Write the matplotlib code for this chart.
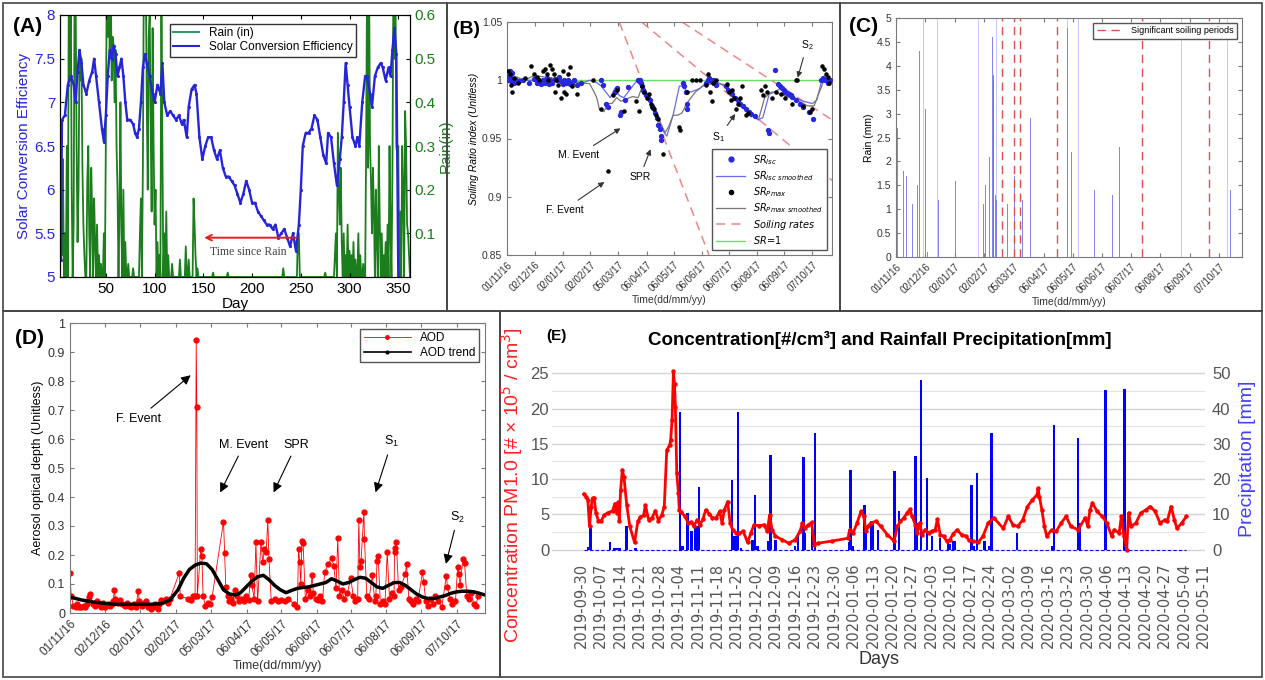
import numpy as np
import pandas as pd
import matplotlib
matplotlib.use('Agg')
import matplotlib.pyplot as plt
from matplotlib.patches import Rectangle
from matplotlib.lines import Line2D

plt.rcParams['font.family'] = ['Liberation Sans', 'DejaVu Sans']

W, H = 1265, 680
fig = plt.figure(figsize=(W / 100, H / 100), dpi=100)


def px_axes(l, t, r, b):
    return fig.add_axes([l / W, 1 - b / H, (r - l) / W, (b - t) / H])


def matlab_style(ax, fs=7.5):
    for s in ax.spines.values():
        s.set_color('#7a7a7a')
        s.set_linewidth(0.8)
    ax.tick_params(direction='in', top=True, right=True, length=3,
                   color='#7a7a7a', labelsize=fs, labelcolor='#333333')


# ---------------- (A) solar conversion efficiency & rain ----------------
eff_day = [4, 5, 8, 11, 14, 17, 19, 21, 23, 25, 27, 30, 33, 36, 38, 40, 43, 46, 48, 50,
           52, 54, 56, 58, 60, 62, 64, 66, 68, 70, 72, 75, 78, 80, 82, 84, 86, 88, 90, 92,
           95, 98, 100, 103, 106, 108, 110, 113, 116, 119, 122, 125, 128, 130, 133, 135, 138, 141, 143, 146,
           149, 152, 155, 158, 161, 164, 167, 170, 173, 176, 179, 182, 185, 188, 191, 194, 197, 200, 203, 206,
           209, 212, 215, 218, 221, 224, 227, 230, 233, 236, 239, 242, 245, 248, 250, 252, 255, 258, 261, 264,
           267, 270, 273, 276, 278, 281, 284, 287, 290, 292, 294, 296, 298, 300, 303, 306, 308, 310, 313, 316,
           318, 321, 323, 326, 329, 332, 334, 337, 340, 342, 344, 346, 348, 350]
eff_val = [5.2, 6.8, 6.85, 7.2, 7.3, 7.2, 7.0, 7.35, 7.6, 7.45, 7.2, 7.1, 7.25, 7.35, 7.5, 7.3, 7.0, 6.7, 6.55, 6.85,
           7.3, 7.6, 7.5, 7.65, 7.55, 7.3, 7.4, 7.5, 7.3, 7.0, 6.8, 6.8, 6.75, 6.65, 6.6, 6.7, 7.0, 7.4, 7.55, 7.45,
           7.3, 7.1, 7.0, 7.2, 7.1, 7.45, 7.0, 6.85, 6.9, 6.85, 6.8, 6.85, 6.75, 6.8, 6.6, 6.95, 7.15, 7.2, 7.1, 6.6,
           6.35, 6.5, 6.6, 6.6, 6.45, 6.35, 6.45, 6.25, 6.15, 6.15, 6.1, 6.05, 5.95, 5.85, 5.95, 6.1, 6.0, 5.85, 5.85, 5.75,
           5.7, 5.65, 5.6, 5.6, 5.55, 5.6, 5.45, 5.5, 5.55, 5.45, 5.35, 5.5, 5.3, 5.6, 6.0, 6.5, 6.65, 6.65, 6.7, 6.85,
           6.8, 6.6, 6.4, 6.3, 6.65, 6.6, 6.3, 6.05, 6.35, 6.6, 7.0, 7.45, 7.2, 6.95, 6.6, 6.5, 6.6, 6.5, 7.0, 7.3,
           7.3, 7.1, 6.95, 7.3, 7.4, 7.45, 7.4, 7.25, 7.4, 7.3, 7.6, 7.85, 7.55, 5.0]

rain_a_day = [4, 5, 6, 8, 10, 12, 13, 14, 15, 17, 18, 19, 20, 21, 22, 23, 24, 25, 26, 27,
              28, 31, 32, 33, 35, 36, 38, 39, 41, 43, 45, 48, 50, 51, 52, 53, 54, 55, 56, 57,
              58, 59, 60, 61, 62, 64, 65, 66, 68, 70, 73, 78, 85, 86, 88, 89, 90, 91, 92, 93,
              94, 95, 96, 97, 98, 99, 100, 101, 103, 105, 107, 108, 110, 112, 114, 118, 126, 132, 135, 140,
              141, 142, 144, 160, 175, 232, 247, 248, 275, 285, 286, 288, 289, 290, 291, 292, 294, 296, 298, 300,
              302, 304, 306, 309, 311, 314, 317, 318, 319, 320, 321, 322, 323, 324, 325, 327, 328, 330, 331, 333,
              335, 337, 339, 341, 342, 344, 345, 346, 347, 348, 349, 350, 352, 354, 355, 357, 358, 359, 360, 361]
rain_a_in = [0.29, 0.05, 0.27, 0.1, 0.3, 0.65, 0.45, 0.7, 0.2, 0.12, 0.7, 0.65, 0.3, 0.08, 0.2, 0.52, 0.45, 0.5, 0.25, 0.12,
             0.05, 0.22, 0.3, 0.1, 0.25, 0.15, 0.18, 0.08, 0.12, 0.05, 0.03, 0.1, 0.3, 0.7, 0.55, 0.65, 0.5, 0.7, 0.45, 0.55,
             0.53, 0.4, 0.52, 0.3, 0.2, 0.15, 0.4, 0.1, 0.2, 0.08, 0.03, 0.02, 0.1, 0.18, 0.25, 0.7, 0.65, 0.7, 0.4, 0.2,
             0.55, 0.6, 0.35, 0.15, 0.57, 0.3, 0.12, 0.2, 0.08, 0.05, 0.7, 0.3, 0.1, 0.15, 0.05, 0.03, 0.04, 0.07, 0.04, 0.18,
             0.12, 0.05, 0.02, 0.01, 0.01, 0.02, 0.1, 0.1, 0.01, 0.05, 0.1, 0.33, 0.2, 0.12, 0.25, 0.08, 0.1, 0.05, 0.12, 0.06,
             0.05, 0.08, 0.04, 0.1, 0.05, 0.03, 0.3, 0.7, 0.25, 0.7, 0.3, 0.22, 0.1, 0.25, 0.15, 0.2, 0.08, 0.3, 0.12, 0.1,
             0.05, 0.08, 0.12, 0.3, 0.1, 0.25, 0.7, 0.5, 0.7, 0.3, 0.28, 0.3, 0.15, 0.3, 0.2, 0.38, 0.3, 0.12, 0.1, 0.05]

blue_a = '#2626d8'
green_a = '#1b7d1b'

ax = px_axes(60, 15, 410, 277)
axr = ax.twinx()
ax.set_zorder(axr.get_zorder() + 1)
ax.patch.set_visible(False)

year_days = np.arange(1, 366)
rain_daily = np.zeros(year_days.size)
rain_daily[np.array(rain_a_day) - 1] = rain_a_in
axr.plot(year_days, rain_daily, color=green_a, lw=1.3)
ax.plot(eff_day, eff_val, color=blue_a, lw=1.7, marker='.', ms=2.5)

ax.set_xlim(3, 362)
ax.set_ylim(5, 8)
axr.set_ylim(0, 0.6)
ax.set_xticks([50, 100, 150, 200, 250, 300, 350])
ax.set_yticks([5, 5.5, 6, 6.5, 7, 7.5, 8])
ax.set_yticklabels(['5', '5.5', '6', '6.5', '7', '7.5', '8'])
axr.set_yticks([0.1, 0.2, 0.3, 0.4, 0.5, 0.6])
ax.tick_params(direction='in', top=True, length=3, labelsize=11)
ax.tick_params(axis='y', labelcolor=blue_a)
axr.tick_params(direction='in', length=3, labelsize=11, labelcolor=green_a)
ax.set_xlabel('Day', fontsize=11, labelpad=1)
ax.set_ylabel('Solar Conversion Efficiency', fontsize=11, color=blue_a, labelpad=2)
axr.set_ylabel('Rain(in)', fontsize=11, color=green_a, labelpad=2)
ax.legend(handles=[Line2D([], [], color='#2f9a6a', lw=1.5, label='Rain (in)'),
                   Line2D([], [], color=blue_a, lw=1.5, label='Solar Conversion Efficiency')],
          loc='upper center', bbox_to_anchor=(0.58, 0.99), fontsize=8.5, fancybox=False,
          edgecolor='#333333', framealpha=1, borderpad=0.3, handlelength=2.2, labelspacing=0.2)
ax.annotate('', xy=(148, 5.45), xytext=(248, 5.45),
            arrowprops=dict(arrowstyle='->', color='#e02020', lw=1.4))
ax.text(196, 5.29, 'Time since Rain', fontsize=8.5, color='#444444',
        family=['Liberation Serif', 'DejaVu Serif'], ha='center', va='center')

# ---------------- shared date axis for (B), (C), (D) ----------------
date_labels = ['01/11/16', '02/12/16', '02/01/17', '02/02/17', '05/03/17', '06/04/17',
               '06/05/17', '06/06/17', '06/07/17', '06/08/17', '06/09/17', '07/10/17']
date_pos = (pd.to_datetime(date_labels, format='%d/%m/%y') - pd.Timestamp('2016-11-01')).days


def date_axis(ax, fs=7.5):
    ax.set_xticks(date_pos)
    ax.set_xticklabels(date_labels, rotation=45, ha='right', rotation_mode='anchor', fontsize=fs)
    ax.set_xlabel('Time(dd/mm/yy)', fontsize=fs + 0.5, color='#333333', labelpad=1)


# ---------------- (B) soiling ratio ----------------
isc_day = [1, 2, 3, 4, 5, 6, 8, 10, 13, 18, 24, 30, 33, 36, 38, 40, 42, 44, 45, 47,
           48, 50, 53, 56, 58, 60, 62, 64, 66, 68, 70, 72, 75, 78, 82, 105, 107, 110, 112, 120,
           122, 126, 127, 131, 135, 146, 147, 148, 149, 150, 152, 153, 155, 157, 159, 161, 163, 165, 167, 168,
           170, 171, 172, 196, 197, 199, 200, 201, 222, 224, 225, 227, 229, 231, 233, 244, 246, 249, 251, 254,
           257, 260, 263, 266, 269, 272, 276, 291, 292, 298, 302, 304, 306, 308, 310, 312, 314, 316, 318, 322,
           326, 330, 336, 341, 350, 352, 354, 357, 360]
isc_val = [1.0, 1.004, 1.008, 1.002, 0.999, 1.006, 0.998, 1.0, 0.999, 1.0, 0.998, 1.001, 0.998, 1.0, 0.997, 1.0, 0.998, 1.002, 0.999, 0.997,
           1.0, 0.998, 1.001, 1.0, 1.003, 0.999, 0.997, 1.0, 0.998, 1.0, 0.997, 0.998, 1.0, 0.996, 0.998, 1.0, 0.996, 0.98, 0.977, 0.99,
           0.993, 0.97, 0.973, 0.983, 0.994, 1.0, 0.999, 1.0, 0.998, 0.995, 0.992, 0.99, 0.987, 0.985, 0.983, 0.978, 0.976, 0.972, 0.968, 0.962,
           0.958, 0.952, 0.949, 0.998, 0.995, 0.99, 0.98, 0.975, 0.998, 1.0, 1.002, 0.999, 1.0, 0.998, 0.996, 0.995, 0.992, 0.99, 0.988, 0.985,
           0.983, 0.98, 0.978, 0.975, 0.973, 0.971, 0.969, 0.957, 0.955, 1.009, 0.997, 0.995, 0.993, 0.992, 0.99, 0.989, 0.988, 0.987, 0.986, 0.983,
           0.98, 0.977, 0.973, 0.967, 1.0, 1.002, 1.0, 0.998, 1.0]

pmax_day = [1, 3, 4, 6, 8, 12, 20, 27, 30, 33, 36, 40, 42, 44, 46, 48, 50, 52, 53, 55,
            57, 60, 62, 64, 66, 68, 70, 72, 78, 96, 105, 112, 118, 123, 130, 144, 147, 150, 153, 156,
            158, 160, 162, 164, 166, 168, 174, 192, 193, 200, 206, 211, 215, 222, 224, 226, 228, 230, 233, 245,
            247, 249, 251, 253, 255, 257, 260, 262, 266, 268, 283, 285, 287, 290, 295, 300, 305, 310, 318, 322,
            323, 330, 338, 340, 351, 353, 355, 357, 359]
pmax_val = [1.008, 1.005, 0.996, 0.99, 1.002, 0.998, 1.002, 1.012, 1.005, 1.003, 1.0, 1.008, 1.01, 1.005, 1.0, 1.013, 1.01, 1.005, 0.99, 1.0,
            0.996, 0.985, 1.008, 0.99, 0.988, 1.005, 1.011, 0.995, 0.988, 1.0, 0.975, 0.922, 0.987, 0.992, 0.974, 0.982, 0.974, 0.995, 0.99, 0.985,
            0.988, 0.98, 0.977, 0.975, 0.97, 0.967, 0.937, 0.96, 0.957, 0.99, 1.0, 1.0, 1.0, 0.996, 1.005, 0.99, 0.982, 0.998, 1.0, 0.997,
            0.99, 0.983, 0.992, 0.985, 0.975, 0.98, 0.985, 0.995, 0.97, 0.972, 0.992, 0.987, 0.995, 0.99, 0.985, 0.99, 0.988, 0.985, 0.98, 1.0,
            1.0, 0.978, 0.973, 0.975, 1.012, 1.01, 1.005, 1.003, 0.998]

isc_s_day = [0, 20, 50, 70, 85, 92, 100, 105, 110, 115, 120, 125, 130, 135, 140, 145, 150, 155, 160, 165,
             170, 175, 178, 185, 192, 197, 200, 205, 215, 222, 230, 240, 250, 260, 270, 280, 285, 292, 298, 305,
             312, 320, 330, 340, 345, 350, 356, 362]
isc_s_val = [1.0, 1.0, 1.0, 0.999, 0.998, 1.0, 0.998, 0.995, 0.99, 0.985, 0.993, 0.987, 0.985, 0.99, 0.995, 1.0, 0.997, 0.99, 0.982, 0.975,
             0.965, 0.955, 0.952, 0.97, 0.995, 0.995, 0.99, 0.99, 0.993, 0.998, 1.0, 0.996, 0.988, 0.98, 0.972, 0.966, 0.968, 0.988, 0.99, 0.993,
             0.988, 0.985, 0.982, 0.98, 0.983, 0.998, 0.999, 1.0]

pmax_s_day = [0, 10, 20, 30, 40, 50, 60, 70, 80, 92, 97, 100, 103, 108, 112, 117, 122, 127, 133, 140,
              146, 150, 155, 160, 165, 170, 176, 180, 185, 190, 195, 200, 205, 210, 218, 228, 236, 244, 252, 262,
              272, 280, 287, 295, 305, 315, 325, 335, 342, 348, 353, 362]
pmax_s_val = [1.0, 1.003, 1.0, 1.004, 1.003, 1.002, 0.999, 1.0, 0.998, 0.997, 0.99, 0.985, 0.975, 0.973, 0.98, 0.98, 0.985, 0.982, 0.984, 0.986,
              0.985, 0.993, 0.988, 0.98, 0.972, 0.965, 0.955, 0.96, 0.97, 0.97, 0.972, 0.98, 0.985, 0.99, 0.995, 0.997, 0.997, 0.996, 0.985, 0.977,
              0.97, 0.966, 0.985, 0.99, 0.988, 0.985, 0.982, 0.978, 0.978, 0.99, 1.0, 1.0]

rate_day = [[125, 225], [150, 362], [195, 362]]
rate_val = [[1.05, 0.85], [1.05, 0.914], [1.05, 0.966]]

ax = px_axes(507, 22, 832, 255)
matlab_style(ax)
ax.axhline(1.0, color='#66e066', lw=1, label='SR=1', zorder=1)
for k, (rd, rv) in enumerate(zip(rate_day, rate_val)):
    ax.plot(rd, rv, color='#ee8888', lw=1.1, ls=(0, (6, 4)),
            label='Soiling rates' if k == 0 else None, zorder=1)
ax.plot(isc_s_day, isc_s_val, color='#6a6af0', lw=0.9, zorder=2)
ax.plot(pmax_s_day, pmax_s_val, color='#777777', lw=0.9, zorder=2)
ax.scatter(isc_day, isc_val, s=8, color='#2828e0', zorder=3)
ax.scatter(pmax_day, pmax_val, s=5, color='black', zorder=4)
ax.set_xlim(0, 362)
ax.set_ylim(0.85, 1.05)
ax.set_yticks([0.85, 0.9, 0.95, 1.0, 1.05])
ax.set_yticklabels(['0.85', '0.9', '0.95', '1', '1.05'])
date_axis(ax, 7)
ax.set_ylabel('Soiling Ratio index (Unitless)', fontsize=7.5, style='italic', labelpad=2)

b_handles = [
    Line2D([], [], ls='none', marker='o', ms=3.5, color='#2828e0', label=r'$SR_{Isc}$'),
    Line2D([], [], color='#6a6af0', lw=0.9, label=r'$SR_{Isc\ smoothed}$'),
    Line2D([], [], ls='none', marker='o', ms=3, color='black', label=r'$SR_{Pmax}$'),
    Line2D([], [], color='#777777', lw=0.9, label=r'$SR_{Pmax\ smoothed}$'),
    Line2D([], [], color='#ee8888', lw=1.1, ls=(0, (6, 4)), label=r'$Soiling\ rates$'),
    Line2D([], [], color='#66e066', lw=1, label=r'$SR\!=\!1$'),
]
ax.legend(handles=b_handles, loc='lower right', fontsize=7, fancybox=False, edgecolor='#555555',
          framealpha=1, handlelength=3, labelspacing=0.25, borderpad=0.4)

arrow_b = dict(arrowstyle='-|>', color='#333333', lw=0.8, mutation_scale=8)
ax.annotate('M. Event', xy=(129, 0.96), xytext=(80, 0.936), fontsize=7.5, ha='center', va='center',
            arrowprops=arrow_b)
ax.annotate('SPR', xy=(161, 0.943), xytext=(148, 0.917), fontsize=7.5, ha='center', va='center',
            arrowprops=arrow_b)
ax.annotate('F. Event', xy=(111, 0.914), xytext=(64, 0.889), fontsize=7.5, ha='center', va='center',
            arrowprops=arrow_b)
ax.annotate('$\\mathregular{S_1}$', xy=(256, 0.973), xytext=(236, 0.951), fontsize=7.5, ha='center',
            va='center', arrowprops=arrow_b)
ax.annotate('$\\mathregular{S_2}$', xy=(323, 1.0), xytext=(334, 1.03), fontsize=7.5, ha='center',
            va='center', arrowprops=arrow_b)

# ---------------- (C) rain (mm) ----------------
c_day = [1.4, 7.7, 11, 17.6, 19, 23, 25, 30.6, 33, 44.6, 62, 62.5, 92, 94.5, 98.4, 100,
         101.6, 102.3, 103, 104.4, 106, 117.7, 124.4, 133, 141, 141.5, 180, 185, 209, 228, 235.5, 352]
c_mm = [2.7, 1.8, 1.7, 1.1, 1.3, 1.5, 4.3, 3.1, 0.1, 1.2, 4.0, 1.6, 1.1, 1.5, 2.1, 1.2,
        4.6, 3.8, 3.7, 1.3, 1.2, 1.1, 1.7, 1.2, 3.5, 2.9, 4.8, 2.2, 1.4, 1.3, 2.3, 1.4]
c_high_day = [20, 29, 44, 87, 101, 106, 180.5, 192, 300, 349]
c_high_mm = [6.0, 6.0, 6.0, 6.0, 6.0, 6.0, 6.0, 6.0, 6.0, 6.0]
soiling_day = [111, 124, 130, 169, 259, 329]

ax = px_axes(896, 18, 1242, 257)
matlab_style(ax)
ax.bar(c_high_day, c_high_mm, width=0.9, color='#c8c8ff', zorder=1)
ax.bar(c_day, c_mm, width=0.9, color='#7070f0', alpha=0.85, zorder=2)
for k, d in enumerate(soiling_day):
    ax.axvline(d, color='#e05050', lw=1, ls=(0, (6, 4)),
               label='Significant soiling periods' if k == 0 else None, zorder=3)
ax.set_xlim(0, 364)
ax.set_ylim(0, 5)
ax.set_yticks(np.arange(0, 5.01, 0.5))
ax.set_yticklabels(['0', '0.5', '1', '1.5', '2', '2.5', '3', '3.5', '4', '4.5', '5'])
date_axis(ax, 7)
ax.set_ylabel('Rain (mm)', fontsize=7.5, labelpad=2)
ax.legend(loc='upper right', fontsize=6.5, fancybox=False, edgecolor='#555555', framealpha=1,
          handlelength=3, borderpad=0.4)

# ---------------- (D) aerosol optical depth ----------------
aod_day = [0, 1, 3, 5, 6, 8, 10, 12, 13, 15, 17, 18, 20, 22, 24, 25, 27, 29, 31, 33,
           35, 37, 38, 39, 40, 42, 44, 46, 48, 50, 52, 54, 56, 58, 60, 61, 63, 65, 67, 69,
           71, 73, 75, 77, 78, 80, 82, 84, 86, 88, 96, 97, 104, 106, 108, 110, 111, 111.5, 112, 115,
           116, 117, 119, 121, 123, 125, 135, 136, 137, 139, 140, 142, 143, 145, 147, 149, 151, 153, 155, 157,
           159, 160, 162, 163.5, 165, 168, 169.5, 171, 172.5, 174, 175, 177, 180, 183, 186, 189, 192, 197, 200, 201,
           202, 203, 204, 205, 207, 209, 211, 213, 214, 216, 218, 220, 222, 224, 227, 230, 232, 234, 235.5, 237,
           239, 241, 244, 247, 249, 251, 253, 254, 255, 256, 258.5, 259, 261, 263, 266, 268, 269, 270, 271, 273,
           275, 277, 279, 281, 283, 285, 285.5, 286, 287, 289, 291, 295, 296, 298, 300, 302, 304, 306, 310, 311,
           313, 315, 317, 319, 321, 324, 327, 331, 332, 334, 336, 339, 341, 342, 343, 345.6, 347, 349, 351, 353,
           355, 357, 359]
aod_val = [0.139, 0.06, 0.025, 0.02, 0.03, 0.022, 0.02, 0.025, 0.02, 0.03, 0.055, 0.065, 0.03, 0.025, 0.04, 0.03, 0.02, 0.035, 0.02, 0.03,
           0.025, 0.03, 0.04, 0.08, 0.05, 0.035, 0.045, 0.03, 0.025, 0.035, 0.025, 0.02, 0.03, 0.02, 0.076, 0.04, 0.025, 0.035, 0.04, 0.02,
           0.015, 0.02, 0.03, 0.015, 0.03, 0.045, 0.04, 0.05, 0.035, 0.05, 0.137, 0.057, 0.05, 0.045, 0.06, 0.06, 0.94, 0.71, 0.06, 0.22,
           0.197, 0.06, 0.025, 0.035, 0.03, 0.055, 0.315, 0.208, 0.09, 0.06, 0.04, 0.05, 0.035, 0.08, 0.06, 0.04, 0.05, 0.04, 0.06, 0.045,
           0.13, 0.095, 0.05, 0.245, 0.04, 0.245, 0.175, 0.22, 0.21, 0.32, 0.185, 0.04, 0.05, 0.04, 0.045, 0.04, 0.05, 0.03, 0.022, 0.222,
           0.177, 0.1, 0.25, 0.24, 0.05, 0.08, 0.06, 0.13, 0.07, 0.05, 0.045, 0.06, 0.04, 0.14, 0.168, 0.19, 0.163, 0.085, 0.26, 0.06,
           0.08, 0.05, 0.07, 0.12, 0.06, 0.04, 0.05, 0.32, 0.157, 0.18, 0.35, 0.255, 0.06, 0.05, 0.13, 0.04, 0.06, 0.18, 0.196, 0.03,
           0.04, 0.03, 0.21, 0.05, 0.07, 0.06, 0.225, 0.21, 0.245, 0.08, 0.09, 0.135, 0.17, 0.05, 0.04, 0.03, 0.05, 0.04, 0.14, 0.108,
           0.04, 0.025, 0.05, 0.03, 0.06, 0.04, 0.02, 0.128, 0.09, 0.05, 0.03, 0.04, 0.16, 0.136, 0.096, 0.185, 0.171, 0.06, 0.05, 0.07,
           0.03, 0.025, 0.06]

trend_day = [0, 10, 20, 30, 40, 50, 60, 70, 80, 88, 95, 100, 105, 110, 115, 120, 125, 130, 135, 140,
             145, 150, 155, 160, 165, 170, 175, 180, 185, 190, 195, 200, 205, 210, 215, 220, 225, 230, 235, 240,
             245, 250, 255, 260, 265, 270, 275, 280, 285, 290, 295, 300, 305, 310, 315, 320, 325, 330, 335, 340,
             345, 350, 355, 360, 365]
trend_val = [0.055, 0.045, 0.038, 0.033, 0.03, 0.03, 0.03, 0.03, 0.032, 0.045, 0.08, 0.12, 0.15, 0.165, 0.172, 0.17, 0.15, 0.115, 0.08, 0.066,
             0.062, 0.07, 0.09, 0.11, 0.125, 0.13, 0.115, 0.095, 0.08, 0.07, 0.078, 0.085, 0.088, 0.09, 0.095, 0.1, 0.105, 0.118, 0.11, 0.1,
             0.105, 0.115, 0.123, 0.12, 0.105, 0.09, 0.085, 0.095, 0.105, 0.105, 0.095, 0.08, 0.065, 0.055, 0.05, 0.05, 0.055, 0.06, 0.068, 0.073,
             0.075, 0.075, 0.073, 0.068, 0.062]

ax = px_axes(70, 323, 485, 613)
matlab_style(ax, 9)
ax.plot(aod_day, aod_val, color='red', lw=0.6, marker='o', ms=3.5, label='AOD')
ax.plot(trend_day, trend_val, color='black', lw=2.5, label='AOD trend')
ax.set_xlim(0, 365)
ax.set_ylim(0, 1)
ax.set_yticks(np.arange(0, 1.01, 0.1))
ax.set_yticklabels(['0', '0.1', '0.2', '0.3', '0.4', '0.5', '0.6', '0.7', '0.8', '0.9', '1'])
date_axis(ax, 8.5)
ax.set_ylabel('Aerosol optical depth (Unitless)', fontsize=9, labelpad=3)
ax.legend(handles=[Line2D([], [], color='red', lw=0.6, marker='o', ms=2.5, label='AOD'),
                   Line2D([], [], color='black', lw=1.2, marker='o', ms=2, label='AOD trend')],
          loc='upper right', fontsize=8.5, fancybox=False, edgecolor='#555555', framealpha=1,
          handlelength=4, labelspacing=0.2, borderpad=0.3)
arrow_d = dict(arrowstyle='-|>', color='black', lw=0.8, mutation_scale=14)
ax.annotate('F. Event', xy=(108, 0.826), xytext=(60, 0.67), fontsize=9, ha='center', va='center',
            arrowprops=arrow_d)
ax.annotate('M. Event', xy=(131, 0.407), xytext=(153, 0.58), fontsize=9, ha='center', va='center',
            arrowprops=arrow_d)
ax.annotate('SPR', xy=(178, 0.407), xytext=(199, 0.58), fontsize=9, ha='center', va='center',
            arrowprops=arrow_d)
ax.annotate('$\\mathregular{S_1}$', xy=(268, 0.407), xytext=(283, 0.59), fontsize=9, ha='center',
            va='center', arrowprops=arrow_d)
ax.annotate('$\\mathregular{S_2}$', xy=(330, 0.16), xytext=(341, 0.33), fontsize=9, ha='center',
            va='center', arrowprops=arrow_d)

# ---------------- (E) PM1.0 concentration & precipitation ----------------
conc_day = [1, 1.8, 2.4, 3, 3.6, 4.1, 4.7, 5.3, 6.2, 7.1, 8.3, 9.5, 11.3, 12.1, 12.8, 13.4, 13.7, 14.2, 14.8, 15.4,
            16.4, 17.5, 19.2, 20.4, 21.3, 22.5, 23.1, 24.3, 25.5, 26.7, 27.8, 29, 29.9, 30.8, 31.8, 32.2, 32.7, 33.2, 33.6, 33.9,
            34.4, 35, 35.3, 36.1, 37.3, 38.5, 39.7, 40.5, 41.7, 42.7, 43.8, 44.8, 46, 47.2, 48.6, 49.8, 50.7, 51.5, 52.7, 53.6,
            54.5, 55.7, 56.9, 58.3, 59.9, 61, 62.2, 64, 65.8, 67, 67.8, 68.7, 69.9, 72.3, 74.7, 77, 78.8, 79.6, 80.6, 81.8,
            82.9, 83.9, 85.3, 90.1, 96, 96.6, 97.8, 99.3, 100.7, 101.7, 102.5, 103.3, 104.3, 106.1, 107.8, 110.2, 112.6, 113.8, 114.9, 116.1,
            117.3, 118.3, 119.1, 120.3, 120.9, 121.8, 122.7, 123.8, 125, 126.2, 127.4, 128.2, 129.2, 130.4, 131.5, 132.7, 133.9, 135.3, 136.9, 138.4,
            139.6, 141, 142.8, 144.6, 146.5, 148.5, 151.9, 153.7, 155.4, 157.1, 158.9, 160.6, 162.3, 164.1, 164.4, 164.9, 165.8, 166.7, 167.5, 169.3,
            171, 172.7, 174.5, 176.2, 178.8, 181.4, 182.3, 183.1, 184, 185.7, 187.5, 189.2, 190.9, 191.8, 193.6, 194.4, 195.3, 196.3, 197, 197.9,
            199.6, 201.4, 203.1, 204.8, 206.6, 208.3, 210, 210.9, 212.3, 213.5, 214.4, 216.1, 217.8]
conc_val = [7.9, 7.5, 7.0, 3.3, 6.1, 7.3, 7.3, 5.2, 4.1, 4.0, 4.9, 5.2, 5.5, 6.5, 5.2, 6.7, 4.0, 8.4, 11.3, 10.3,
            6.3, 3.3, 1.0, 4.0, 4.6, 4.9, 6.3, 4.2, 4.5, 5.5, 4.1, 4.9, 6.1, 14.1, 14.8, 15.5, 18.4, 25.3, 23.5, 20.2,
            10.8, 8.0, 5.6, 5.3, 4.7, 3.8, 3.9, 3.3, 4.2, 3.5, 4.3, 5.6, 5.1, 4.5, 4.5, 5.4, 3.8, 5.6, 6.8, 3.8,
            2.8, 2.4, 2.3, 2.6, 1.0, 2.3, 3.5, 3.4, 3.5, 2.6, 4.9, 2.8, 1.9, 1.4, 0.9, 1.4, 2.6, 3.8, 3.05, 3.5,
            3.85, 0.7, 0.9, 1.2, 1.6, 2.8, 2.3, 3.8, 5.4, 4.7, 2.6, 3.3, 3.8, 4.0, 3.3, 2.1, 1.2, 3.3, 4.0, 4.5,
            5.2, 5.7, 4.7, 3.5, 2.3, 3.8, 2.1, 2.8, 2.4, 2.6, 2.8, 4.3, 2.1, 1.9, 1.2, 1.4, 2.25, 2.8, 2.1, 1.9,
            1.3, 1.2, 1.0, 1.9, 3.8, 4.5, 3.0, 4.7, 3.5, 3.3, 4.2, 6.1, 7.0, 7.8, 8.7, 7.5, 5.6, 3.3, 1.9, 2.8,
            2.6, 3.75, 4.7, 3.3, 2.8, 4.5, 3.3, 5.6, 6.6, 5.4, 4.7, 3.75, 1.9, 2.8, 2.35, 4.7, 1.9, 0.0, 5.2, 3.3,
            3.75, 5.2, 5.6, 6.1, 5.4, 3.75, 4.2, 4.0, 6.1, 4.2, 3.0, 3.75, 4.7]

prec_day = [2.5, 3.3, 10.3, 12, 13, 14, 16.4, 19.6, 35.6, 36.5, 38.2, 39.7, 41, 41.8, 42.4, 54.3, 55, 55.7, 56.5, 57.5,
            61.6, 62.6, 63.5, 67.5, 68.1, 69.9, 76.9, 78, 80, 80.6, 83, 84.1, 96.6, 97, 97.8, 101.9, 102.5, 104.3, 104.9, 106.9,
            112.8, 114.4, 120.3, 120.9, 122.3, 124.4, 126.2, 129.2, 132.1, 132.7, 133.9, 134.5, 140.4, 141.2, 142.4, 145.2, 147, 147.6, 156.8, 169.5,
            170.1, 178.8, 179.4, 188.7, 195.6]
prec_mm = [0.8, 6.1, 2.2, 0.5, 0.5, 0.5, 6.8, 0.5, 39, 1, 10.4, 5.2, 6.6, 6.6, 17.8, 19.8, 3.8, 3.8, 39, 0.5,
           2.8, 15.6, 1, 2.4, 26.8, 2.8, 1, 4.7, 26.4, 4.7, 8, 33.2, 2, 22.6, 1, 12.6, 4.7, 8, 8, 5.6,
           22.2, 10.8, 26.6, 7.6, 48.2, 20.2, 3.8, 3.2, 2.8, 1.5, 2.4, 2.4, 18.4, 1, 21.6, 2.4, 1, 33.2, 4.6, 1,
           35.3, 31.6, 7.4, 45.2, 45.6]

week_dates = pd.date_range('2019-09-30', '2020-05-11', freq='7D')
week_pos = (week_dates - week_dates[0]).days
week_labels = week_dates.strftime('%Y-%m-%d')

ax = px_axes(552, 360, 1205, 558)
axr = ax.twinx()
ax.set_zorder(axr.get_zorder() + 1)
ax.patch.set_visible(False)

axr.set_xlim(-10.5, 224.5)
axr.set_ylim(-2.4, 53.8)
axr.set_yticks([0, 10, 20, 30, 40, 50])
axr.set_yticks(np.arange(5, 50, 10), minor=True)
axr.set_xticks(week_pos + 3.5, minor=True)
axr.grid(True, which='major', color='#d4d4d4', lw=1.0)
axr.grid(True, which='minor', color='#e4e4e4', lw=0.8)
axr.set_axisbelow(True)
axr.bar(prec_day, prec_mm, width=0.9, color='#0000ff', zorder=2)
axr.plot([conc_day[0], conc_day[-1]], [0, 0], color='#0000ff', lw=0.8, ls=(0, (3, 2)), zorder=2)

ax.plot(conc_day, conc_val, color='#ff0000', lw=2, marker='o', ms=2.2)
ax.set_xlim(-10.5, 224.5)
ax.set_ylim(-1.2, 26.9)
ax.set_yticks([0, 5, 10, 15, 20, 25])
ax.set_xticks(week_pos)
ax.set_xticklabels(week_labels, rotation=90, fontsize=10.5, color='#555555',
                   family=['DejaVu Sans'])
for a in (ax, axr):
    for s in a.spines.values():
        s.set_visible(False)
    a.tick_params(which='both', length=0, colors='#555555')
ax.tick_params(axis='y', labelsize=12, pad=2)
axr.tick_params(axis='y', labelsize=12, pad=5)
axr.tick_params(axis='x', labelbottom=False)
ax.set_ylabel('Concentration PM1.0 [# × 10$^5$ / cm$^3$]', color='#ff2020', fontsize=14)
ax.yaxis.set_label_coords(-0.042, 0.37)
axr.set_ylabel('Precipitation [mm]', color='#4040ff', fontsize=14, labelpad=6)
ax.set_xlabel('Days', fontsize=13, color='#333333', labelpad=2)
fig.text(880 / W, 1 - 340 / H, 'Concentration[#/cm³] and Rainfall Precipitation[mm]',
         fontsize=13.5, fontweight='bold', ha='center', va='center')

# ---------------- panel letters and frames ----------------
for lbl, x, y, fs in [('(A)', 28, 26, 15), ('(B)', 466, 29, 14), ('(C)', 864, 27, 15),
                      ('(D)', 30, 338, 15), ('(E)', 556, 336, 11)]:
    fig.text(x / W, 1 - y / H, lbl, fontsize=fs, fontweight='bold', ha='center', va='center')

for l, t, r, b in [(3, 3, 447, 311), (447, 3, 840, 311), (840, 3, 1262, 311),
                   (3, 311, 500, 677), (500, 311, 1262, 677)]:
    fig.add_artist(Rectangle((l / W, 1 - b / H), (r - l) / W, (b - t) / H, transform=fig.transFigure,
                             fill=False, edgecolor='#444444', lw=1.2))

fig.savefig('out.png', dpi=100)
